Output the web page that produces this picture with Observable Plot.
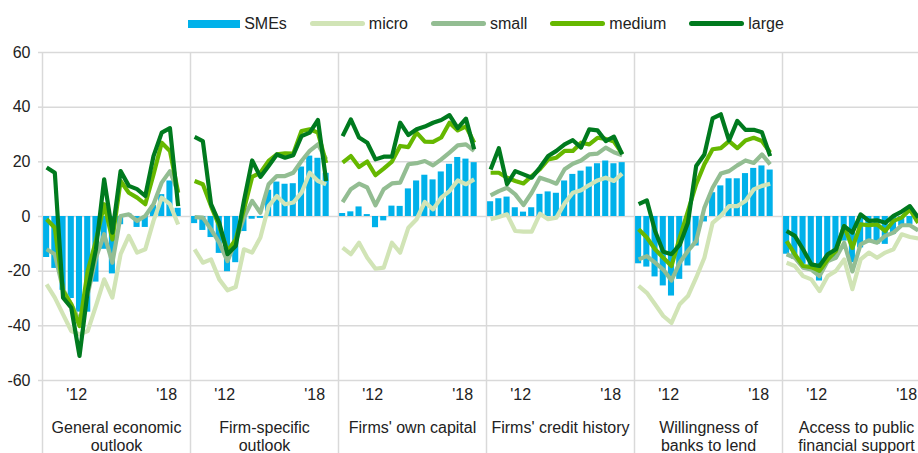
<!DOCTYPE html>
<html>
<head>
<meta charset="utf-8">
<script src="https://cdn.jsdelivr.net/npm/d3@7"></script>
<script src="https://cdn.jsdelivr.net/npm/@observablehq/plot@0.6"></script>
<style>
  html, body { margin: 0; padding: 0; background: #fff; overflow: hidden; width: 918px; height: 453px; }
  body { font-family: "Liberation Sans", Arial, sans-serif; color: #222; }
  #legend { display: flex; align-items: center; justify-content: center; height: 40px; box-sizing: border-box; padding-top: 7px; margin-left: 42px; width: 888px; font-size: 16px; }
  .item { display: flex; align-items: center; margin: 0 11.5px; }
  .sw { display: inline-block; margin-right: 4px; }
  #chart svg g[aria-label="y-axis tick"] { stroke: #d9d9d9; stroke-width: 1.5; }
</style>
</head>
<body>
<div id="legend"></div>
<div id="chart"></div>
<script>
// ---- data (SAFE, net percentages) ----
const panels = [
  "General economic\noutlook",
  "Firm-specific\noutlook",
  "Firms' own capital",
  "Firms' credit history",
  "Willingness of\nbanks to lend",
  "Access to public\nfinancial support"
];
const yearTicks = ["'12", "'18"];
const yearTickSlots = [3.65, 14.6];
const yTicks = [-60, -40, -20, 0, 20, 40, 60];

const smes = [
  [-15, -19, -27, -30, -35, -35, -24, -12, -21, -3, 1, -4, -4, 4, 8, 13, 3],
  [-2.6, -5.1, -7.7, -13.5, -20.2, -16.9, -5.5, -1, -0.7, 9.6, 12.6, 11.8, 12, 18.1, 22.1, 21.3, 15.8],
  [1.1, 1.7, 3.5, 0.7, -4.1, -1.6, 3.8, 3.7, 10.1, 13, 15.1, 13.4, 16.3, 19.1, 21.6, 21, 19.7],
  [5.4, 6.5, 7.1, 3.2, 1.6, 3.2, 8.1, 9, 8.5, 13, 15.4, 16.6, 18.1, 19.3, 20.3, 19.3, 19.7],
  [-17.3, -18.5, -22.1, -25.4, -29.1, -23, -18.1, -10.8, -2, 8.7, 11.2, 13.8, 13.8, 15.7, 17.6, 18.5, 17],
  [-13.8, -15.7, -17.5, -19.9, -23.6, -16.9, -15, -9, -16.9, -11.5, -9.6, -10.2, -10.2, -6.5, -3.5, -2.9, -2]
];
const micro = [
  [-24.8, -29.7, -35.8, -41.9, -43.1, -41.9, -32.7, -23, -29.7, -13.8, -7.1, -13.2, -12, -1.6, 6.9, 4.5, -2.9],
  [-12, -16.9, -15.7, -23, -27, -25.8, -12, -13.2, -7.7, 3.8, 7.5, 4.5, 5.1, 8.7, 16, 13, 11.8],
  [-11.4, -13.8, -9.6, -15.1, -19.1, -18.7, -9.6, -13.2, -4.1, -1, 5.3, 2.6, 6.9, 9.3, 13.2, 11.8, 13.6],
  [-1, -0.2, 0.8, -5.3, -5.5, -5.5, 1, -1, -0.4, 4.8, 8.7, 9.6, 11.5, 13.2, 14.2, 13, 15.7],
  [-25.4, -27.9, -32.1, -36.4, -38.9, -32.1, -29.1, -22.4, -15.1, -2.3, 0.2, 3.8, 3.8, 5.7, 9.9, 11.2, 12],
  [-16.9, -18.1, -21.8, -23, -27.3, -21.8, -19.9, -15.7, -26.6, -15.7, -13.2, -15.1, -13.2, -12, -6.5, -7.5, -8]
];
const small = [
  [-12, -13.8, -26.6, -32.1, -38.2, -28.5, -15.1, -6.5, -16.9, 0.2, 0.8, -1.6, 0.2, 4.5, 12.4, 16.6, 8.7],
  [-0.2, -0.4, -4.7, -9.6, -16.3, -9, -0.4, 5.7, 1.4, 11.8, 14.8, 14.8, 16, 20.3, 24, 26.4, 20.9],
  [5.3, 10, 12, 10.6, 4.1, 10, 12.1, 12.4, 19.1, 19.5, 20.3, 18.7, 20.9, 23.4, 26, 26.4, 24],
  [7.7, 9.3, 10.5, 8.1, 4.2, 8.7, 14.2, 13.2, 12, 17.3, 19.3, 20.5, 22.7, 23, 25.2, 23.5, 22.4],
  [-15.7, -14.5, -16.9, -19.4, -23.4, -16.9, -12.6, -9, 3.2, 10.5, 15.7, 16.6, 18.7, 20.5, 19.6, 22.7, 19.1],
  [-13.8, -15.1, -18.7, -19.4, -21.8, -16.3, -15.1, -9.6, -20.1, -10.2, -8.7, -9.6, -7.1, -5.9, -3.2, -3.2, -5.1]
];
const medium = [
  [-1, -4.1, -27.2, -32.1, -40.1, -19.9, -8.9, 4.5, -8.4, 13, 8.7, 6.9, 4.5, 15.4, 27, 24, 8.7],
  [13, 11.8, 3.8, -3.5, -12.6, -8.4, 2.6, 14.5, 16, 20.3, 22.7, 23.1, 23, 31.3, 31.9, 30.7, 19.6],
  [19.7, 22.1, 18.1, 20.1, 15.1, 17.5, 20.1, 25.8, 25.4, 30.7, 27.4, 27.3, 28.9, 34.3, 31.5, 33, 27],
  [16, 16, 14.2, 13, 12.1, 14.8, 17.3, 20.9, 21.5, 24, 24, 27, 26.4, 28.8, 28.4, 27.4, 23],
  [-4.7, -7.7, -12, -15.1, -18.1, -7.7, 2, 11.8, 19.1, 24.6, 25, 27.6, 25, 27.8, 28.8, 27.6, 23.4],
  [-9, -13.8, -18.1, -18.5, -19.9, -15.7, -12.6, -3.5, -11.5, -2.9, -3.2, -2.9, -5.3, -1.6, -0.4, 2.6, -2.3]
];
const large = [
  [17.9, 16, -29.7, -33.4, -51, -27.2, -12, 13.6, -5.9, 16.6, 11.2, 10, 7.5, 22.1, 30.7, 32.3, 3.8],
  [29.1, 27.6, 4.5, -2.3, -13.8, -10.8, 5.7, 20.5, 14.5, 18.5, 22.7, 21.5, 22.4, 29.4, 30.7, 35.3, 13],
  [29.4, 35.5, 28.9, 27, 20.9, 21.9, 21.9, 34.3, 29.8, 31.9, 32.9, 34.3, 35.3, 37.1, 32.3, 35.8, 24.6],
  [17.2, 25, 11.8, 16.6, 15.4, 14.2, 17.9, 22.1, 24, 26.4, 27.9, 25.2, 31.9, 31.5, 27.6, 29.2, 22.7],
  [4.5, 5.9, -5.3, -12.9, -13.8, -10.4, -2.3, 18.5, 22.7, 35.9, 37.4, 27.8, 35, 31.7, 31.7, 30.8, 22.1],
  [-5.3, -7.1, -12, -17.5, -18.1, -13.8, -12, -3.5, -5.9, 0.8, -1.6, -1.4, -2.3, 0.2, 1.8, 3.8, -0.4]
];

const seriesNames = ["micro", "small", "medium", "large"];
const seriesData = [micro, small, medium, large];
const colors = {SMEs: "#00b1ea", micro: "#d1e4b6", small: "#93bd92", medium: "#66b800", large: "#007a1e"};

// ---- layout helpers ----
const slotsPerPanel = 18;          // 17 survey rounds + one empty slot
const panelPx = 148;
const width = 918, height = 413;
const mLeft = 42, mTop = 12, mBottom = 73;
const xMax = -0.5 + (width - mLeft) / (panelPx / slotsPerPanel);

// ---- tables ----
const barRows = [];
smes.forEach((arr, p) => arr.forEach((v, i) => barRows.push({x: p * slotsPerPanel + i, v})));
const lineRows = [];
seriesData.forEach((ser, s) => ser.forEach((arr, p) => arr.forEach((v, i) =>
  lineRows.push({series: seriesNames[s], panel: p, x: p * slotsPerPanel + i, v}))));
const yearRows = [];
panels.forEach((_, p) => yearTicks.forEach((t, k) => yearRows.push({x: p * slotsPerPanel + yearTickSlots[k], t})));
const panelRows = panels.map((name, p) => ({x: p * slotsPerPanel + (slotsPerPanel - 1) / 2, name}));
const bounds = d3.range(panels.length + 1).map(p => p * slotsPerPanel - 0.5);

// ---- legend ----
const legend = document.getElementById("legend");
["SMEs", ...seriesNames].forEach(name => {
  const it = document.createElement("div");
  it.className = "item";
  const sw = document.createElement("span");
  sw.className = "sw";
  if (name === "SMEs") {
    sw.style.cssText = `width:52px;height:8px;background:${colors[name]};`;
  } else {
    sw.style.cssText = `width:55px;height:5px;border-radius:3px;background:${colors[name]};`;
  }
  it.appendChild(sw);
  const lab = document.createElement("span");
  lab.textContent = name;
  it.appendChild(lab);
  legend.appendChild(it);
});

// ---- chart ----
const gridColor = "#d9d9d9";
const chart = Plot.plot({
  width, height,
  marginLeft: mLeft, marginRight: 0, marginTop: mTop, marginBottom: mBottom,
  style: {fontFamily: "'Liberation Sans', Arial, sans-serif", fontSize: "16px", color: "#222", background: "#fff"},
  x: {type: "linear", domain: [-0.5, xMax], axis: null},
  y: {domain: [-60, 60], ticks: yTicks, tickSize: 4, tickPadding: 8, tickFormat: d => String(d), label: null},
  marks: [
    Plot.ruleY(yTicks, {stroke: gridColor, strokeWidth: 1.5}),
    Plot.ruleX(bounds, {stroke: gridColor, strokeWidth: 1.5, insetBottom: -mBottom}),
    Plot.rect(barRows, {x1: d => d.x - 0.37, x2: d => d.x + 0.37, y1: () => 0, y2: "v", fill: colors.SMEs}),
    ...seriesNames.map(s => Plot.line(lineRows.filter(d => d.series === s), {
      x: "x", y: "v", z: "panel", stroke: colors[s], strokeWidth: 4.2,
      strokeLinejoin: "round", strokeLinecap: "butt", clip: true
    })),
    Plot.text(yearRows, {x: "x", text: "t", frameAnchor: "bottom", dy: 19, fill: "#222"}),
    Plot.text(panelRows, {x: "x", text: "name", frameAnchor: "bottom", dy: 40, lineAnchor: "top", lineHeight: 1.1, fill: "#222"})
  ]
});
document.getElementById("chart").appendChild(chart);
</script>
</body>
</html>
